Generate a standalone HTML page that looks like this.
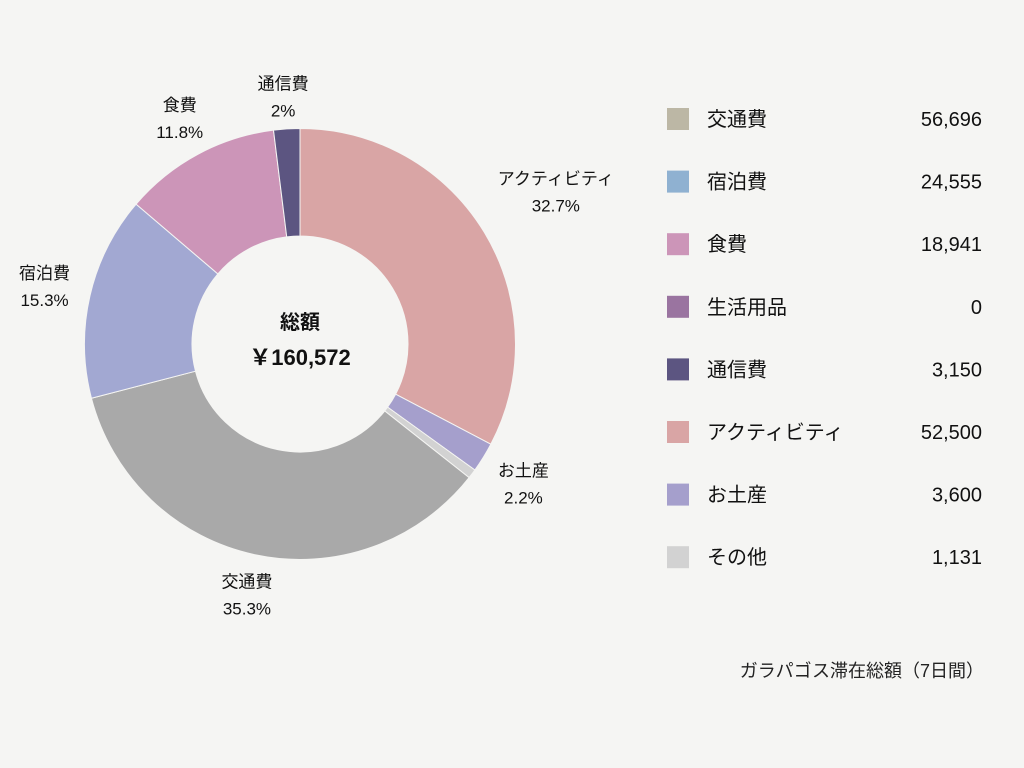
<!DOCTYPE html>
<html><head><meta charset="utf-8"><style>
body{margin:0;background:#f5f5f3;}
svg{display:block;font-family:"Liberation Sans","Noto Sans CJK JP",sans-serif;}
</style></head><body>
<svg id="chart" width="1024" height="768" viewBox="0 0 1024 768">
<rect width="1024" height="768" fill="#f5f5f3"/>
<g id="slices"></g>
<g id="labels"></g>
<text x="300" y="329" text-anchor="middle" font-size="20" font-weight="bold" fill="#111">総額</text>
<text x="300" y="365" text-anchor="middle" font-size="22" font-weight="bold" fill="#111">￥160,572</text>
<g id="legend"></g>
<text x="984" y="677" text-anchor="end" font-size="18" fill="#222">ガラパゴス滞在総額（7日間）</text>
</svg>
<script>
const legendNames = ["交通費","宿泊費","食費","生活用品","通信費","アクティビティ","お土産","その他"];
const legendValues = [56696,24555,18941,0,3150,52500,3600,1131];
const legendColors = ["#bcb7a5","#8fb1d1","#cc95b8","#9a74a0","#5c5581","#d9a5a5","#a59fcc","#d2d2d2"];
const sliceNames = ["アクティビティ","お土産","その他","交通費","宿泊費","食費","生活用品","通信費"];
const sliceValues = [52500,3600,1131,56696,24555,18941,0,3150];
const sliceColors = ["#d9a5a5","#a59fcc","#d2d2d2","#a9a9a9","#a2a8d2","#cc95b8","#9a74a0","#5c5581"];
const labelNudgeX = [35,4,0,0,-4,2,0,-1];
const labelNudgeY = [-19,4,0,-2,0,1,0,10];

const NS="http://www.w3.org/2000/svg";
const cx=300, cy=344, R=215.5, r=108, LR=258;
const total=sliceValues.reduce((a,b)=>a+b,0);
function pt(rad,ang){return [cx+rad*Math.sin(ang), cy-rad*Math.cos(ang)];}
const gS=document.getElementById('slices'), gL=document.getElementById('labels');
let acc=0;
sliceValues.forEach((v,i)=>{
  if(v<=0){return;}
  const a0=acc/total*2*Math.PI; acc+=v; const a1=acc/total*2*Math.PI;
  const large=(a1-a0)>Math.PI?1:0;
  const p0=pt(R,a0),p1=pt(R,a1),q1=pt(r,a1),q0=pt(r,a0);
  const path=document.createElementNS(NS,'path');
  path.setAttribute('d',`M${p0[0]},${p0[1]}A${R},${R} 0 ${large} 1 ${p1[0]},${p1[1]}L${q1[0]},${q1[1]}A${r},${r} 0 ${large} 0 ${q0[0]},${q0[1]}Z`);
  path.setAttribute('fill',sliceColors[i]);
  path.setAttribute('stroke','#f5f5f3');path.setAttribute('stroke-width','1');
  
  
  gS.appendChild(path);
  const pct=v/total*100;
  if(pct>=1){
    const m=(a0+a1)/2, lp=pt(LR,m);
    const lx=lp[0]+labelNudgeX[i], ly=lp[1]+labelNudgeY[i];
    let s=pct.toFixed(1); if(s.endsWith('.0')) s=s.slice(0,-2);
    const t1=document.createElementNS(NS,'text');
    t1.setAttribute('x',lx);t1.setAttribute('y',ly-7);
    t1.setAttribute('text-anchor','middle');t1.setAttribute('font-size','17');t1.setAttribute('fill','#111');
    t1.textContent=sliceNames[i];
    
    
    gL.appendChild(t1);
    const t2=document.createElementNS(NS,'text');
    t2.setAttribute('x',lx);t2.setAttribute('y',ly+20);
    t2.setAttribute('text-anchor','middle');t2.setAttribute('font-size','17');t2.setAttribute('fill','#111');
    t2.textContent=s+'%';
    
    
    gL.appendChild(t2);
  }
});
const gG=document.getElementById('legend');
legendNames.forEach((n,i)=>{
  const y=119+i*62.6;
  const sw=document.createElementNS(NS,'rect');
  sw.setAttribute('x',667);sw.setAttribute('y',y-11);sw.setAttribute('width',22);sw.setAttribute('height',22);
  sw.setAttribute('fill',legendColors[i]);
  
  
  gG.appendChild(sw);
  const t=document.createElementNS(NS,'text');
  t.setAttribute('x',707);t.setAttribute('y',y+7);t.setAttribute('font-size','20');t.setAttribute('fill','#111');
  t.textContent=n;
  
  
  gG.appendChild(t);
  const tv=document.createElementNS(NS,'text');
  tv.setAttribute('x',982);tv.setAttribute('y',y+7);tv.setAttribute('font-size','20');tv.setAttribute('fill','#111');
  tv.setAttribute('text-anchor','end');
  tv.textContent=legendValues[i].toLocaleString('en-US');
  
  
  gG.appendChild(tv);
});
</script>
</body></html>
